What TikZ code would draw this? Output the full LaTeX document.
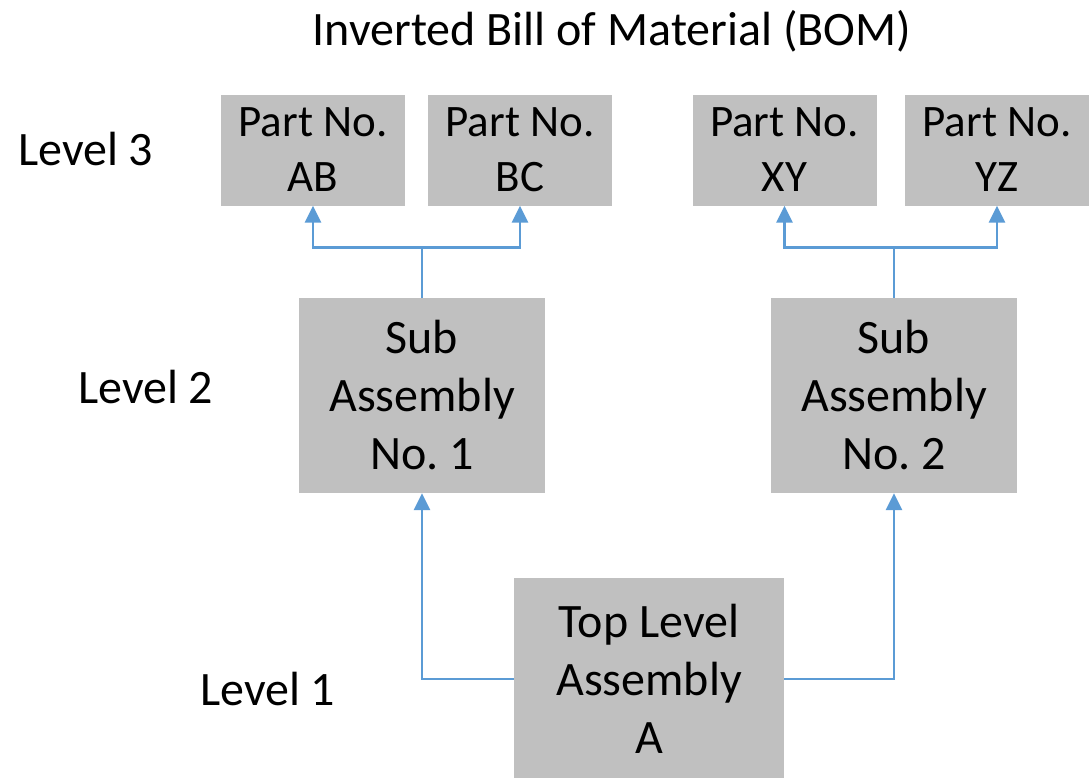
\documentclass[tikz,border=0pt]{standalone}
\usepackage{fontspec}
\setmainfont{Carlito}
\frenchspacing
\usetikzlibrary{arrows.meta}
\definecolor{boxgray}{HTML}{C0C0C0}
\definecolor{linkblue}{HTML}{5B9BD5}
\tikzset{
  partbox/.style={rectangle, fill=boxgray, minimum width=184pt, minimum height=111pt,
    inner sep=0pt, align=center, font=\fontsize{45}{55}\selectfont},
  subbox/.style={rectangle, fill=boxgray, minimum width=246pt, minimum height=195pt,
    inner sep=0pt, align=center, font=\fontsize{48}{58}\selectfont},
  topbox/.style={rectangle, fill=boxgray, minimum width=270pt, minimum height=202pt,
    inner sep=0pt, align=center, font=\fontsize{48}{58}\selectfont},
  levellabel/.style={anchor=base west, inner sep=0pt, font=\fontsize{48}{58}\selectfont},
  link/.style={draw=linkblue, line width=2.8pt},
  linkarrow/.style={link, -{Triangle[length=17pt, width=16pt]}}
}
\begin{document}
\begin{tikzpicture}[x=1pt, y=-1pt]
  \useasboundingbox (0,0) rectangle (1092,777);
  \begin{scope}
    \clip (0,0) rectangle (1092,777);

    % title
    \node[anchor=base, inner sep=0pt, font=\fontsize{48}{58}\selectfont] (title) at (612,45)
      {Inverted Bill of Material (BOM)};

    % level labels
    \node[levellabel] (lvl3) at (18,165) {Level 3};
    \node[levellabel] (lvl2) at (78,403) {Level 2};
    \node[levellabel] (lvl1) at (200,705) {Level 1};

    % level 3 parts
    \node[partbox] (ab) at (313,150) {Part No.\\AB};
    \node[partbox] (bc) at (520,150) {Part No.\\BC};
    \node[partbox] (xy) at (784.5,150) {Part No.\\XY};
    \node[partbox] (yz) at (997,150) {Part No.\\YZ};

    % level 2 sub assemblies
    \node[subbox] (sub1) at (422,395.5) {Sub\\Assembly\\No. 1};
    \node[subbox] (sub2) at (894,395.5) {Sub\\Assembly\\No. 2};

    % level 1 top assembly
    \node[topbox] (top) at (649,679) {Top Level\\Assembly\\A};

    % connectors from the top assembly to the sub assemblies
    \draw[linkarrow] (top.west) -| (sub1.south);
    \draw[linkarrow] (top.east) -| (sub2.south);

    % connectors from the sub assemblies to the parts
    \draw[link] (sub1.north) -- ++(0,-50) coordinate (j1);
    \draw[linkarrow] (j1) -| (ab.south);
    \draw[linkarrow] (j1) -| (bc.south);
    \draw[link] (sub2.north) -- ++(0,-50) coordinate (j2);
    \draw[linkarrow] (j2) -| (xy.south);
    \draw[linkarrow] (j2) -| (yz.south);
  \end{scope}
\end{tikzpicture}
\end{document}
